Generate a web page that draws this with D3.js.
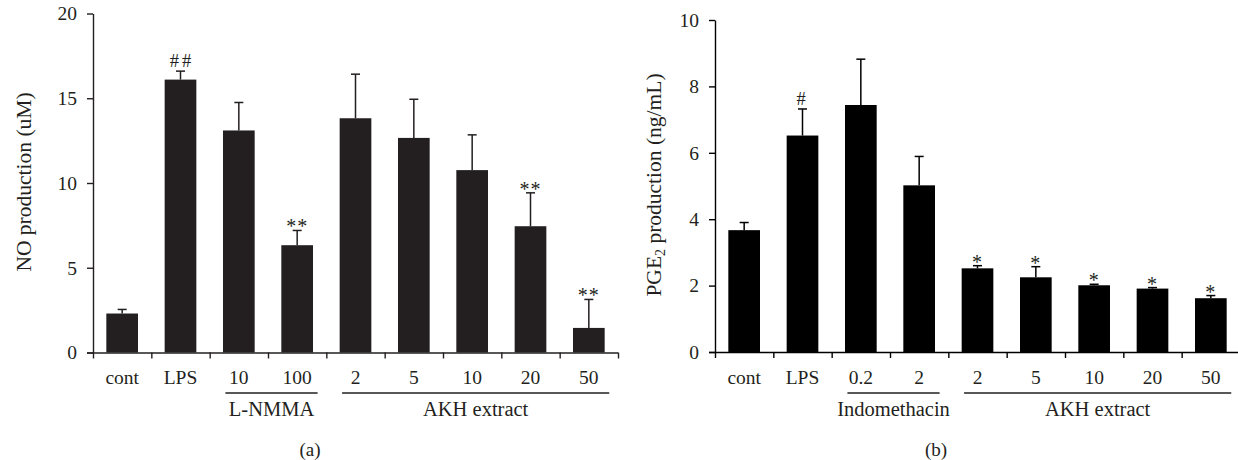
<!DOCTYPE html>
<html>
<head>
<meta charset="utf-8">
<script src="https://cdn.jsdelivr.net/npm/d3@7"></script>
<style>
  html, body { margin: 0; padding: 0; background: #fff; }
  svg { display: block; }
  text { font-family: "Liberation Serif", "DejaVu Serif", serif; fill: #231f20; }
</style>
</head>
<body>
<svg id="chart" width="1238" height="460"></svg>
<script>
// ---- Data ----
const categoriesA = ["cont", "LPS", "10", "100", "2", "5", "10", "20", "50"];
const valuesA = [2.30, 16.1, 13.1, 6.33, 13.82, 12.66, 10.76, 7.45, 1.45];
const errTopA = [2.54, 16.6, 14.75, 7.2, 16.42, 14.94, 12.84, 9.42, 3.13];
const marksA = ["", "##", "", "**", "", "", "", "**", "**"];
const groupsA = [{ label: "L-NMMA", from: 2, to: 3 }, { label: "AKH extract", from: 4, to: 8 }];
const ticksA = [0, 5, 10, 15, 20];

const categoriesB = ["cont", "LPS", "0.2", "2", "2", "5", "10", "20", "50"];
const valuesB = [3.67, 6.52, 7.44, 5.02, 2.52, 2.25, 2.01, 1.91, 1.62];
const errTopB = [3.90, 7.32, 8.82, 5.89, 2.60, 2.57, 2.04, 1.94, 1.70];
const marksB = ["", "#", "", "", "*", "*", "*", "*", "*"];
const groupsB = [{ label: "Indomethacin", from: 2, to: 3 }, { label: "AKH extract", from: 4, to: 8 }];
const ticksB = [0, 2, 4, 6, 8, 10];

const svg = d3.select("#chart");

function panel(cfg) {
  const g = svg.append("g");
  const n = cfg.categories.length;
  const x = d3.scaleLinear().domain([0, n]).range([cfg.x0, cfg.x1]);
  const y = d3.scaleLinear().domain([0, cfg.ymax]).range([cfg.y0, cfg.y1]);
  const step = x(1) - x(0);
  const bw = step * 0.543;

  // bars
  g.selectAll("rect.bar").data(cfg.values).join("rect")
    .attr("x", (d, i) => x(i + 0.5) - bw / 2)
    .attr("y", d => y(d))
    .attr("width", bw)
    .attr("height", d => y(0) - y(d))
    .attr("fill", cfg.barColor);

  // error bars (upper only)
  const eb = g.append("g").attr("stroke", cfg.barColor).attr("stroke-width", 1.5);
  cfg.errTop.forEach((e, i) => {
    const cx = x(i + 0.5);
    eb.append("line").attr("x1", cx).attr("x2", cx).attr("y1", y(cfg.values[i])).attr("y2", y(e));
    eb.append("line").attr("x1", cx - 4.5).attr("x2", cx + 4.5).attr("y1", y(e)).attr("y2", y(e));
  });

  // significance marks
  cfg.marks.forEach((m, i) => {
    if (!m) return;
    const isHash = m.indexOf("#") >= 0;
    g.append("text")
      .attr("x", x(i + 0.5) + (isHash && m.length > 1 ? 1.5 : 0))
      .attr("y", y(cfg.errTop[i]) + (isHash ? -4 : 3))
      .attr("text-anchor", "middle")
      .attr("font-size", isHash ? 18.5 : 20)
      .attr("fill", isHash ? "#231f20" : "#555")
      .attr("letter-spacing", isHash ? 3 : 1)
      .text(m);
  });

  // y axis
  const ya = g.append("g").attr("transform", `translate(${cfg.x0},0)`)
    .call(d3.axisLeft(y).tickValues(cfg.ticks).tickSize(6).tickSizeOuter(0).tickPadding(10));
  ya.selectAll("path, line").attr("stroke", cfg.axisColor).attr("stroke-width", 1.4);
  ya.selectAll("text").attr("font-size", 19.5).attr("font-family", "Liberation Serif").attr("fill", "#231f20");

  // x axis
  const xa = g.append("g").attr("transform", `translate(0,${cfg.y0})`)
    .call(d3.axisBottom(x).tickValues(d3.range(n + 1)).tickSize(6).tickSizeOuter(0).tickFormat(""));
  xa.selectAll("path, line").attr("stroke", cfg.axisColor).attr("stroke-width", 1.4);
  xa.select("path").attr("d", `M${cfg.x0 - 6},0.5H${cfg.x1}`);

  // category labels
  g.selectAll("text.cat").data(cfg.categories).join("text")
    .attr("class", "cat")
    .attr("x", (d, i) => x(i + 0.5))
    .attr("y", 384)
    .attr("text-anchor", "middle")
    .attr("font-size", 19.5)
    .text(d => d);

  // groups
  cfg.groups.forEach(gr => {
    const a = x(gr.from + 0.27), b = x(gr.to + 0.85);
    g.append("line").attr("x1", a).attr("x2", b).attr("y1", 393).attr("y2", 393)
      .attr("stroke", "#231f20").attr("stroke-width", 1.4);
    g.append("text").attr("x", (a + b) / 2).attr("y", 416)
      .attr("text-anchor", "middle").attr("font-size", 20.5).text(gr.label);
  });

  // y title
  const t = g.append("text")
    .attr("transform", `translate(${cfg.titleX},${cfg.titleY}) rotate(-90)`)
    .attr("text-anchor", "middle")
    .attr("font-size", 21.5);
  cfg.title(t);

  // panel label
  g.append("text").attr("x", cfg.panelX).attr("y", 456)
    .attr("text-anchor", "middle").attr("font-size", 19).text(cfg.panel);
}

panel({
  categories: categoriesA, values: valuesA, errTop: errTopA, marks: marksA, groups: groupsA,
  ticks: ticksA, ymax: 20, x0: 93, x1: 618, y0: 352.5, y1: 13.5,
  barColor: "#231f20", axisColor: "#231f20",
  titleX: 31, titleY: 182,
  title: t => t.text("NO production (uM)"),
  panelX: 310, panel: "(a)"
});

panel({
  categories: categoriesB, values: valuesB, errTop: errTopB, marks: marksB, groups: groupsB,
  ticks: ticksB, ymax: 10, x0: 715, x1: 1240, y0: 352, y1: 20,
  barColor: "#000", axisColor: "#000",
  titleX: 661, titleY: 185,
  title: t => {
    t.append("tspan").text("PGE");
    t.append("tspan").attr("font-size", 14).attr("dy", 4).text("2");
    t.append("tspan").attr("dy", -4).text(" production (ng/mL)");
  },
  panelX: 936, panel: "(b)"
});
</script>
</body>
</html>
